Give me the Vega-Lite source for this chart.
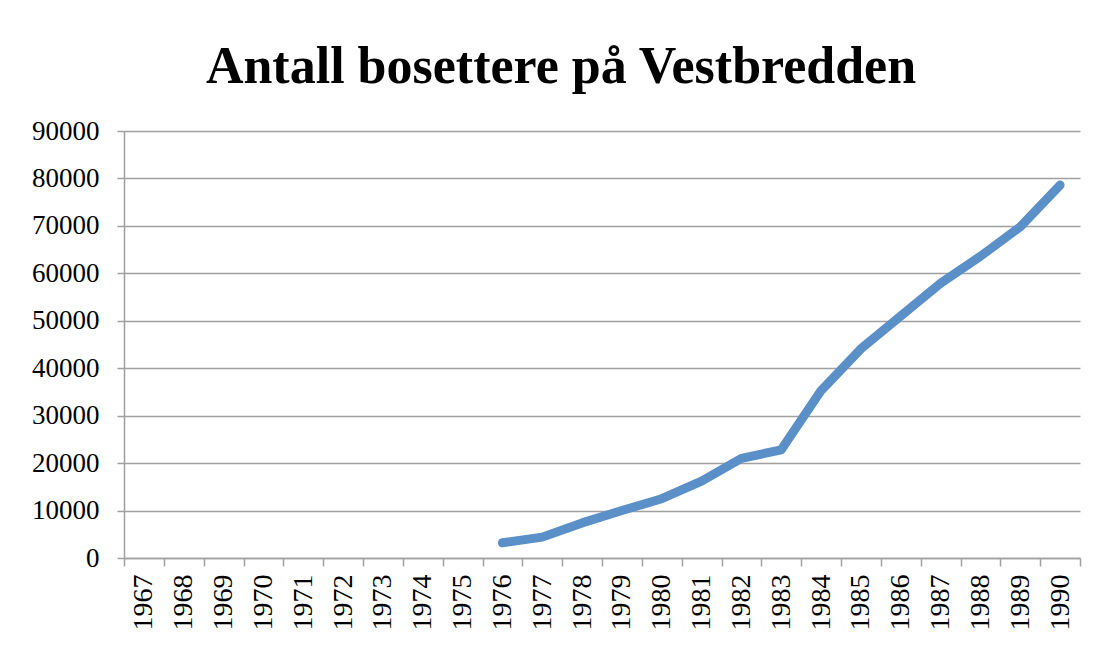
{
  "$schema": "https://vega.github.io/schema/vega-lite/v6.json",
  "autosize": "none",
  "width": 956,
  "height": 427,
  "padding": {"left": 124, "top": 131, "right": 29, "bottom": 89},
  "background": "white",
  "config": {"view": {"stroke": null}},
  "title": {
    "text": "Antall bosettere på Vestbredden",
    "font": "Liberation Serif",
    "fontWeight": "bold",
    "fontSize": 52,
    "color": "black",
    "anchor": "middle",
    "frame": "group",
    "baseline": "alphabetic",
    "offset": 48,
    "dx": -41,
    "dy": 66
  },
  "data": {
    "values": [
      {"year": "1976", "settlers": 3200},
      {"year": "1977", "settlers": 4400},
      {"year": "1978", "settlers": 7400},
      {"year": "1979", "settlers": 10000},
      {"year": "1980", "settlers": 12500},
      {"year": "1981", "settlers": 16200},
      {"year": "1982", "settlers": 21000},
      {"year": "1983", "settlers": 22800},
      {"year": "1984", "settlers": 35300},
      {"year": "1985", "settlers": 44100},
      {"year": "1986", "settlers": 51000},
      {"year": "1987", "settlers": 57900},
      {"year": "1988", "settlers": 63600},
      {"year": "1989", "settlers": 69800},
      {"year": "1990", "settlers": 78600}
    ]
  },
  "mark": {"type": "line", "color": "#5B8FC8", "strokeWidth": 9, "strokeCap": "round", "strokeJoin": "round"},
  "encoding": {
    "x": {
      "field": "year",
      "type": "ordinal",
      "bandPosition": 0.5,
      "scale": {
        "type": "band",
        "paddingInner": 0,
        "paddingOuter": 0,
        "domain": ["1967","1968","1969","1970","1971","1972","1973","1974","1975","1976","1977","1978","1979","1980","1981","1982","1983","1984","1985","1986","1987","1988","1989","1990"]
      },
      "axis": {
        "title": null,
        "tickBand": "extent",
        "ticks": true,
        "tickSize": 8,
        "tickColor": "#a0a0a0",
        "tickWidth": 1.5,
        "domainColor": "#a0a0a0",
        "domainWidth": 1.5,
        "grid": false,
        "labelAngle": 270,
        "labelAlign": "right",
        "labelBaseline": "middle",
        "labelPadding": 8,
        "labelFont": "Liberation Serif",
        "labelFontSize": 28,
        "labelColor": "black",
        "labelOverlap": false
      }
    },
    "y": {
      "field": "settlers",
      "type": "quantitative",
      "scale": {"domain": [0, 90000], "nice": false},
      "axis": {
        "title": null,
        "values": [0, 10000, 20000, 30000, 40000, 50000, 60000, 70000, 80000, 90000],
        "format": "d",
        "grid": true,
        "gridColor": "#a0a0a0",
        "gridWidth": 1.5,
        "ticks": true,
        "tickSize": 7,
        "tickColor": "#a0a0a0",
        "tickWidth": 1.5,
        "domainColor": "#a0a0a0",
        "domainWidth": 1.5,
        "labelPadding": 18,
        "labelFont": "Liberation Serif",
        "labelFontSize": 27,
        "labelColor": "black",
        "labelOverlap": false
      }
    }
  }
}
